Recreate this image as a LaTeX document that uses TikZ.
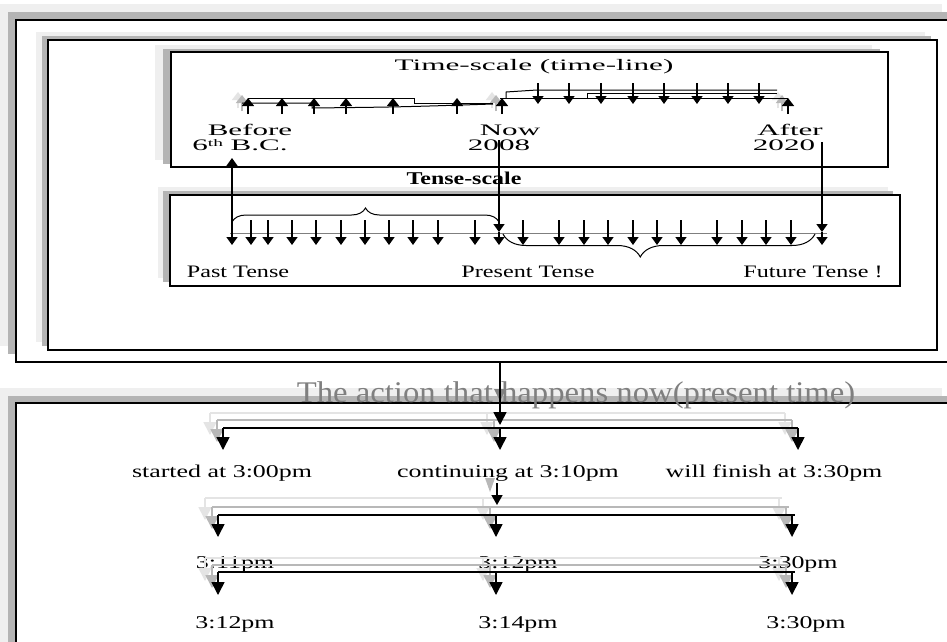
\documentclass[tikz,border=0pt]{standalone}
\usepackage{fontspec}
\setmainfont{Liberation Serif}
\usepackage{graphicx}
\usetikzlibrary{arrows.meta,decorations.pathreplacing}
\definecolor{shA}{HTML}{B4B4B4}
\definecolor{shB}{HTML}{EFEFEF}
\definecolor{ghA}{HTML}{B8B8B8}
\definecolor{ghB}{HTML}{E4E4E4}
\definecolor{txg}{HTML}{7F7F7F}
\newcommand{\sx}[3]{\scalebox{#1}[1]{\fontsize{#2}{#2}\selectfont #3}}
% shadowed box: x1 y1 x2 y2, gray dx dy, light dx dy, line width
\newcommand\shbox[9]{%
  \fill[shB, shift={(#7,#8)}] (#1,#2) rectangle (#3,#4);
  \fill[shA, shift={(#5,#6)}] (#1,#2) rectangle (#3,#4);
  \filldraw[fill=white, draw=black, line width=#9] (#1,#2) rectangle (#3,#4);}
\tikzset{
  lbl/.style={inner sep=0pt, anchor=base},
  tarr/.style={line width=1.5pt, -{Triangle[width=12pt,length=8pt]}},
  darr/.style={line width=1.5pt, -{Triangle[width=11pt,length=8pt]}},
  barr/.style={line width=1.6pt, -{Triangle[width=13pt,length=13pt]}},
  thin line/.style={line width=1pt},
}
\begin{document}
\begin{tikzpicture}[x=1pt,y=-1pt]
\useasboundingbox (0,0) rectangle (947,641);
\clip (0,0) rectangle (947,641);

% ---------- boxes ----------
\shbox{16}{20}{958}{362}{-8}{-8}{-16}{-16}{2pt}
\shbox{48}{40}{937}{350}{-6}{-4}{-12}{-8}{1.5pt}
\shbox{171}{52}{888}{167}{-8}{-3}{-16}{-7}{1.2pt}
\shbox{170}{195}{900}{286}{-7}{-4}{-12}{-8}{1.2pt}
\shbox{16}{403}{958}{700}{-8}{-7}{-16}{-15}{2pt}

% ---------- time-scale texts ----------
\node[lbl] (title) at (534,70) {\sx{1.95}{16}{Time-scale (time-line)}};
\node[lbl] (before) at (250,135) {\sx{1.94}{16}{Before}};
\node[lbl] (bc) at (240,150) {\sx{1.94}{16}{6\raisebox{3.5pt}{\fontsize{10}{10}\selectfont th} B.C.}};
\node[lbl] (now) at (510,135) {\sx{1.94}{16}{Now}};
\node[lbl] (y2008) at (499,150) {\sx{1.94}{16}{2008}};
\node[lbl] (after) at (790,135) {\sx{1.94}{16}{After}};
\node[lbl] (y2020) at (784,150) {\sx{1.94}{16}{2020}};

% ---------- time-scale line ----------
\foreach \x in {248,502,788}{
  \draw[tarr, ghB, shift={(-10,-6)}] (\x,114) -- (\x,98);
  \draw[tarr, ghA, shift={(-6,-3)}] (\x,114) -- (\x,98);
}
\draw[thin line] (248,98) -- (414,98) -- (414,103) -- (493,103);
\draw[thin line] (242,103) -- (312,103) -- (312,108) .. controls (400,107) .. (493,104);
\draw[thin line] (500,98) -- (788,98);
\draw[thin line] (506,98) -- (506,92) -- (537,90) -- (777,90);
\draw[thin line] (587,98) -- (587,93) -- (777,93);
\foreach \x in {248,282,314,346,393,457,502,788}
  \draw[tarr] (\x,114) -- (\x,98);
\foreach \x in {538,569,601,633,664,697,728,759}
  \draw[darr] (\x,83) -- (\x,104);

% ---------- tense-scale ----------
\node[lbl] (ts) at (464,184) {\sx{1.33}{18}{\bfseries Tense-scale}};
\node[lbl] (past) at (238,277) {\sx{1.38}{17.5}{Past Tense}};
\node[lbl] (pres) at (528,277) {\sx{1.38}{17.5}{Present Tense}};
\node[lbl] (fut) at (813,277) {\sx{1.38}{17.5}{Future Tense !}};

\draw[line width=1pt, txg] (230,233) -- (827,233);
\draw[line width=1pt, decorate, decoration={brace, amplitude=14pt}] (232,222) -- (499,222);
\draw[line width=1pt, decorate, decoration={brace, amplitude=23pt, mirror, aspect=0.44}] (503,234) -- (815,234);
\foreach \x in {251,268,292,316,341,365,389,413,438,475,523,559,584,608,633,657,681,717,742,766,791}
  \draw[darr] (\x,220) -- (\x,245);
% long connectors
\draw[line width=1.5pt, {Triangle[width=11pt,length=8pt]}-{Triangle[width=11pt,length=8pt]}] (232,158) -- (232,245);
\draw[darr] (499,140) -- (499,232);
\draw[darr] (499,232) -- (499,245);
\draw[darr] (822,142) -- (822,232);
\draw[darr] (822,232) -- (822,245);

% ---------- bottom part ----------
\node[lbl, text=txg] (act) at (576,402) {\sx{1.09}{30}{The action that happens now(present time)}};

\node[lbl] (s1) at (222,477) {\sx{1.44}{18}{started at 3:00pm}};
\node[lbl] (c1) at (508,477) {\sx{1.44}{18}{continuing at 3:10pm}};
\node[lbl] (f1) at (774,477) {\sx{1.44}{18}{will finish at 3:30pm}};
\node[lbl] (s2) at (235,568) {\sx{1.44}{18}{3:11pm}};
\node[lbl] (c2) at (518,568) {\sx{1.44}{18}{3:12pm}};
\node[lbl] (f2) at (798,568) {\sx{1.44}{18}{3:30pm}};
\node[lbl] (s3) at (235,628) {\sx{1.44}{18}{3:12pm}};
\node[lbl] (c3) at (518,628) {\sx{1.44}{18}{3:14pm}};
\node[lbl] (f3) at (806,628) {\sx{1.44}{18}{3:30pm}};

% row 1
\foreach \dx/\dy/\col in {-13/-15/ghB, -6/-8/ghA, 0/0/black}{
  \begin{scope}[shift={(\dx,\dy)}, \col]
    \draw[line width=1.6pt] (223,428) -- (798,428);
    \draw[barr] (223,428) -- (223,450);
    \draw[barr] (500,428) -- (500,450);
    \draw[barr] (798,428) -- (798,450);
  \end{scope}
}
\fill[ghA!70!black] (494,389) -- (506,389) -- (500,401) -- cycle;
\draw[barr] (500,362) -- (500,425);

% row 2
\foreach \dx/\dy/\col in {-13/-17/ghB, -6/-8/ghA, 0/0/black}{
  \begin{scope}[shift={(\dx,\dy)}, \col]
    \draw[line width=1.6pt] (218,515) -- (795,515);
    \draw[barr] (218,515) -- (218,537);
    \draw[barr] (496,515) -- (496,537);
    \draw[barr] (792,515) -- (792,537);
  \end{scope}
}
\fill[ghA] (485,478) -- (495,478) -- (490,492) -- cycle;
\draw[line width=1.6pt, -{Triangle[width=11pt,length=10pt]}] (497,483) -- (497,505);

% row 3
\foreach \dx/\dy/\col in {-13/-14/ghB, -6/-7/ghA, 0/0/black}{
  \begin{scope}[shift={(\dx,\dy)}, \col]
    \draw[line width=1.6pt] (218,572) -- (795,572);
    \draw[barr] (218,572) -- (218,595);
    \draw[barr] (496,572) -- (496,595);
    \draw[barr] (792,572) -- (792,595);
  \end{scope}
}
\end{tikzpicture}
\end{document}
